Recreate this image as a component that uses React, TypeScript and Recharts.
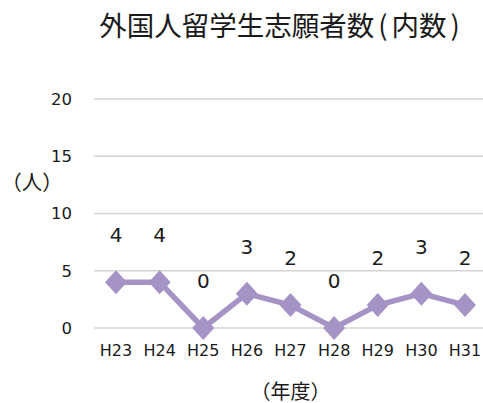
import { LineChart, Line, XAxis, YAxis, CartesianGrid, LabelList } from "recharts"

// ── Data ──────────────────────────────────────────────────────────────────────
const years = ["H23", "H24", "H25", "H26", "H27", "H28", "H29", "H30", "H31"]
const applicants = [4, 4, 0, 3, 2, 0, 2, 3, 2]
const yTicks = [0, 5, 10, 15, 20]

const titleMain = "外国人留学生志願者数"
const titleSub = "内数"
const yTitle = "（人）"
const xTitle = "（年度）"

const data = years.map((year, i) => ({ year, value: applicants[i] }))

const LINE_COLOR = "#a693c6"
const TEXT = "#1a1a1a"
const LATIN = "'DejaVu Sans', Verdana, sans-serif"
const CJK = "'Noto Sans CJK JP', 'Noto Sans', sans-serif"

// ── Diamond marker ────────────────────────────────────────────────────────────
function Diamond(props: any) {
  const { cx, cy } = props
  if (cx == null || cy == null) return null
  const w = 11
  const h = 12
  return (
    <polygon
      points={`${cx},${cy - h} ${cx + w},${cy} ${cx},${cy + h} ${cx - w},${cy}`}
      fill={LINE_COLOR}
    />
  )
}

// value label floating well above each point
function ValueLabel(props: any) {
  const { x, y, value } = props
  return (
    <text
      x={x}
      y={y - 47}
      textAnchor="middle"
      dominantBaseline="central"
      fill={TEXT}
      fontSize={20}
      fontFamily={LATIN}
    >
      {value}
    </text>
  )
}

function YTitle(props: any) {
  const vb = props.viewBox
  return (
    <text
      x={vb.x + 32}
      y={vb.y + vb.height * 0.36}
      textAnchor="middle"
      dominantBaseline="central"
      fill={TEXT}
      fontSize={20.5}
      fontFamily={CJK}
    >
      {yTitle}
    </text>
  )
}

function XTitle(props: any) {
  const vb = props.viewBox
  return (
    <text
      x={vb.x + vb.width / 2}
      y={vb.y + 62}
      textAnchor="middle"
      dominantBaseline="central"
      fill={TEXT}
      fontSize={20}
      fontFamily={CJK}
    >
      {xTitle}
    </text>
  )
}

const paren = { margin: "0 4px" }

export default function App() {
  return (
    <div
      style={{
        position: "fixed",
        left: 0,
        top: 0,
        width: 483,
        height: 403,
        overflow: "hidden",
        background: "#fff",
      }}
    >
      <div
        style={{
          position: "absolute",
          left: 0,
          top: 6,
          width: 563,
          textAlign: "center",
          fontFamily: CJK,
          fontSize: 27.5,
          lineHeight: "36px",
          color: TEXT,
          whiteSpace: "nowrap",
        }}
      >
        {titleMain}
        <span style={paren}>(</span>
        {titleSub}
        <span style={paren}>)</span>
      </div>
      <LineChart
        width={490}
        height={403}
        data={data}
        margin={{ top: 99, right: 3, bottom: 0, left: 0 }}
      >
        <CartesianGrid horizontal vertical={false} stroke="#d4d4d4" strokeWidth={1.3} />
        <XAxis
          dataKey="year"
          axisLine={false}
          tickLine={false}
          tickSize={0}
          tickMargin={17}
          height={75}
          interval={0}
          padding={{ left: 22, right: 22 }}
          tick={{ fill: TEXT, fontSize: 16, fontFamily: LATIN }}
          label={<XTitle />}
        />
        <YAxis
          domain={[0, 20]}
          ticks={yTicks}
          axisLine={false}
          tickLine={false}
          tickSize={0}
          tickMargin={22}
          width={94}
          tick={{ fill: TEXT, fontSize: 16.5, fontFamily: LATIN }}
          label={<YTitle />}
        />
        <Line
          dataKey="value"
          stroke={LINE_COLOR}
          strokeWidth={5.5}
          dot={<Diamond />}
          activeDot={false}
          isAnimationActive={false}
        >
          <LabelList dataKey="value" content={<ValueLabel />} />
        </Line>
      </LineChart>
    </div>
  )
}
